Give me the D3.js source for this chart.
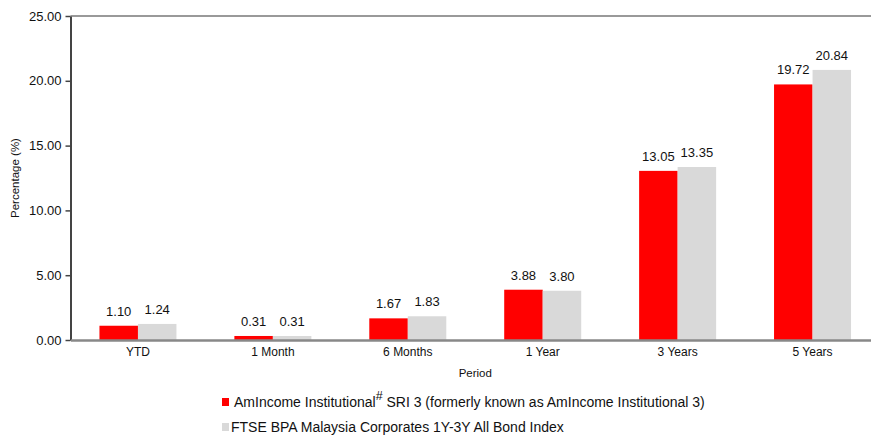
<!DOCTYPE html>
<html>
<head>
<meta charset="utf-8">
<script src="https://cdn.jsdelivr.net/npm/d3@7"></script>
<style>
  body { margin: 0; background: #fff; }
  text { font-family: "Liberation Sans", Arial, sans-serif; fill: #111; }
</style>
</head>
<body>
<svg id="chart" width="871" height="435"></svg>
<script>
const periods = ['YTD', '1 Month', '6 Months', '1 Year', '3 Years', '5 Years'];
const fundValues = [1.10, 0.31, 1.67, 3.88, 13.05, 19.72];
const indexValues = [1.24, 0.31, 1.83, 3.80, 13.35, 20.84];
const yTicks = [0, 5, 10, 15, 20, 25];
const seriesNames = [
    'AmIncome Institutional',
    'FTSE BPA Malaysia Corporates 1Y-3Y All Bond Index'
];
const colors = ['#ff0000', '#d9d9d9'];

const svg = d3.select('#chart');
const margin = { left: 70.5, top: 16, right: 880, bottom: 340 };

const x = d3.scaleBand()
    .domain(periods)
    .range([margin.left, margin.right]);
const y = d3.scaleLinear()
    .domain([0, 25])
    .range([margin.bottom, margin.top]);

const barW = 38.5;
const series = [fundValues, indexValues];

//top border line
svg.append('line')
    .attr('x1', margin.left).attr('x2', 871)
    .attr('y1', y(25)).attr('y2', y(25))
    .attr('stroke', '#999').attr('stroke-width', 2);

//bars + labels
series.forEach((vals, s) => {
    const g = svg.append('g');
    g.selectAll('rect')
        .data(vals)
        .enter().append('rect')
        .attr('x', (d, i) => x(periods[i]) + x.bandwidth() / 2 - barW + s * barW)
        .attr('y', d => y(d))
        .attr('width', barW)
        .attr('height', d => y(0) - y(d))
        .attr('fill', colors[s]);
    g.selectAll('text')
        .data(vals)
        .enter().append('text')
        .attr('x', (d, i) => x(periods[i]) + x.bandwidth() / 2 - barW / 2 + s * barW)
        .attr('y', d => y(d) - 10)
        .attr('text-anchor', 'middle')
        .attr('font-size', 13)
        .text(d => d.toFixed(2));
});

//y axis
const yAxis = svg.append('g')
    .attr('transform', `translate(${margin.left},0)`)
    .call(d3.axisLeft(y).tickValues(yTicks).tickFormat(d3.format('.2f')).tickSize(5).tickSizeOuter(0));
yAxis.select('.domain').attr('stroke', '#444').attr('stroke-width', 2);
yAxis.selectAll('.tick line').attr('stroke', '#444').attr('stroke-width', 1.5);
yAxis.selectAll('.tick text')
    .attr('font-size', 13)
    .attr('font-family', '"Liberation Sans", Arial, sans-serif')
    .attr('fill', '#111')
    .attr('x', -9);

//x axis
const xAxis = svg.append('g')
    .attr('transform', `translate(0,${y(0)})`)
    .call(d3.axisBottom(x).tickSize(0).tickSizeOuter(0));
xAxis.select('.domain').attr('stroke', '#888').attr('stroke-width', 2.5);
xAxis.selectAll('.tick text')
    .attr('font-size', 12)
    .attr('font-family', '"Liberation Sans", Arial, sans-serif')
    .attr('fill', '#111')
    .attr('dy', '1.05em');

//axis titles
svg.append('text')
    .attr('transform', `translate(19,${(margin.top + margin.bottom) / 2}) rotate(-90)`)
    .attr('text-anchor', 'middle')
    .attr('font-size', 11.5)
    .text('Percentage (%)');
svg.append('text')
    .attr('x', (margin.left + margin.right) / 2)
    .attr('y', 377)
    .attr('text-anchor', 'middle')
    .attr('font-size', 11.5)
    .text('Period');

//legend
const leg = svg.append('g');
leg.append('rect').attr('x', 222).attr('y', 398).attr('width', 7).attr('height', 8).attr('fill', colors[0]);
const t1 = leg.append('text').attr('x', 234).attr('y', 407).attr('font-size', 14);
t1.append('tspan').text(seriesNames[0]);
t1.append('tspan').attr('dy', -7).attr('font-size', 12.5).text('#');
t1.append('tspan').attr('dy', 7).text(' SRI 3 (formerly known as AmIncome Institutional 3)');
leg.append('rect').attr('x', 222).attr('y', 423).attr('width', 7).attr('height', 8).attr('fill', colors[1]);
leg.append('text').attr('x', 231).attr('y', 432).attr('font-size', 14).text(seriesNames[1]);
</script>
</body>
</html>
